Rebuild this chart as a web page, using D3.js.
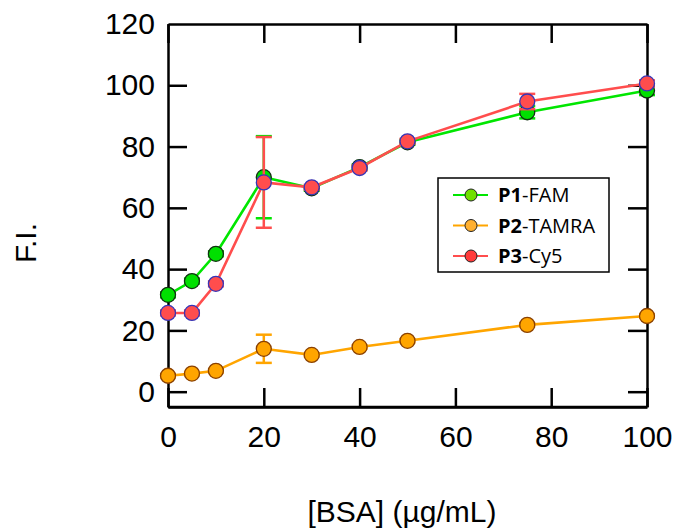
<!DOCTYPE html>
<html>
<head>
<meta charset="utf-8">
<script src="https://cdn.jsdelivr.net/npm/d3@7"></script>
<style>
  body { margin: 0; background: #fff; }
  svg { font-family: "Liberation Sans", Arial, sans-serif; }
</style>
</head>
<body>
<div id="chart"></div>
<script>
// BSA concentrations (µg/mL)
const bsa = [0, 5, 10, 20, 30, 40, 50, 75, 100];

// fluorescence intensity per probe
const p1Fam = [31.6, 36.1, 45.0, 70.0, 66.4, 73.3, 81.4, 91.2, 98.3];
const p1Err = [0.8, 0.8, 0.8, 13.4, 0.8, 0.8, 0.8, 2.0, 1.5];
const p2Tamra = [5.2, 5.9, 6.8, 14.0, 12.0, 14.6, 16.6, 21.8, 24.7];
const p2Err = [0.5, 0.5, 0.5, 4.6, 0.5, 0.5, 0.5, 0.5, 0.5];
const p3Cy5 = [25.7, 25.7, 35.2, 68.3, 66.7, 73.0, 81.7, 94.7, 100.6];
const p3Err = [0.8, 0.8, 0.8, 14.8, 0.8, 0.8, 0.8, 2.5, 1.0];

const seriesNames = ["P1", "P2", "P3"];
const seriesDyes = ["-FAM", "-TAMRA", "-Cy5"];

const xTicks = [0, 20, 40, 60, 80, 100];
const yTicks = [0, 20, 40, 60, 80, 100, 120];

const width = 675, height = 531;
const plotLeft = 168, plotRight = 647, plotTop = 24, plotBottom = 407;

const svg = d3.select("#chart").append("svg")
    .attr("width", width)
    .attr("height", height);

const x = d3.scaleLinear().domain([0, 100]).range([plotLeft, plotRight]);
const y = d3.scaleLinear().domain([-5, 120]).range([plotBottom, plotTop]);

const series = [
    {values: p1Fam, err: p1Err, line: "#00e600", fill: "#00e000", stroke: "#103010", legendFill: "#70e000"},
    {values: p2Tamra, err: p2Err, line: "#ffa500", fill: "#ffa500", stroke: "#8a4000", legendFill: "#ffb030"},
    {values: p3Cy5, err: p3Err, line: "#ff4d4d", fill: "#ff4d4d", stroke: "#3535b8", legendFill: "#ff3a3a"}
];

const tickLen = 19;
const tickFont = "30px";

// frame with inward ticks on all four sides
const axisStyle = g => {
    g.select(".domain").attr("stroke", "#000").attr("stroke-width", 2.5);
    g.selectAll(".tick line").attr("stroke", "#000").attr("stroke-width", 2.5);
    g.selectAll(".tick text").attr("fill", "#000").style("font-size", tickFont);
};

svg.append("g")
    .attr("transform", "translate(0," + plotBottom + ")")
    .call(d3.axisBottom(x).tickValues(xTicks).tickSize(-tickLen).tickSizeOuter(0))
    .call(axisStyle)
    .call(g => g.selectAll(".tick text").attr("dy", "0.71em").attr("y", 19));

svg.append("g")
    .attr("transform", "translate(0," + plotTop + ")")
    .call(d3.axisTop(x).tickValues(xTicks).tickSize(-tickLen).tickSizeOuter(0).tickFormat(""))
    .call(axisStyle);

svg.append("g")
    .attr("transform", "translate(" + plotLeft + ",0)")
    .call(d3.axisLeft(y).tickValues(yTicks.slice(0, 6)).tickSize(-tickLen).tickSizeOuter(0))
    .call(axisStyle)
    .call(g => g.selectAll(".tick text").attr("x", -13));

// the 120 label sits on the top edge
svg.append("text")
    .attr("x", plotLeft - 13)
    .attr("y", y(120))
    .attr("dy", "0.32em")
    .attr("text-anchor", "end")
    .style("font-size", tickFont)
    .text(yTicks[6]);

svg.append("g")
    .attr("transform", "translate(" + plotRight + ",0)")
    .call(d3.axisRight(y).tickValues(yTicks.slice(0, 6)).tickSize(-tickLen).tickSizeOuter(0).tickFormat(""))
    .call(axisStyle);

svg.append("line")
    .attr("x1", plotLeft).attr("x2", plotRight)
    .attr("y1", y(-5)).attr("y2", y(-5))
    .attr("stroke", "#000").attr("stroke-width", 2.5);

// axis titles
svg.append("text")
    .attr("transform", "translate(36,243) rotate(-90)")
    .attr("text-anchor", "middle")
    .style("font-size", "30px")
    .text("F.I.");

svg.append("text")
    .attr("x", 402)
    .attr("y", 522)
    .attr("text-anchor", "middle")
    .style("font-size", "30px")
    .text("[BSA] (µg/mL)");

// series
const line = d3.line().x((d, i) => x(bsa[i])).y(d => y(d));
const capW = 8;

series.forEach(s => {
    const g = svg.append("g");
    g.append("path")
        .datum(s.values)
        .attr("d", line)
        .attr("fill", "none")
        .attr("stroke", s.line)
        .attr("stroke-width", 2.6);

    const eb = g.selectAll(".err")
        .data(s.values)
        .enter()
        .append("g")
        .attr("stroke", s.line)
        .attr("stroke-width", 2.5);
    eb.append("line")
        .attr("x1", (d, i) => x(bsa[i])).attr("x2", (d, i) => x(bsa[i]))
        .attr("y1", (d, i) => y(d - s.err[i])).attr("y2", (d, i) => y(d + s.err[i]));
    eb.append("line")
        .attr("x1", (d, i) => x(bsa[i]) - capW).attr("x2", (d, i) => x(bsa[i]) + capW)
        .attr("y1", (d, i) => y(d + s.err[i])).attr("y2", (d, i) => y(d + s.err[i]));
    eb.append("line")
        .attr("x1", (d, i) => x(bsa[i]) - capW).attr("x2", (d, i) => x(bsa[i]) + capW)
        .attr("y1", (d, i) => y(d - s.err[i])).attr("y2", (d, i) => y(d - s.err[i]));

    g.selectAll("circle")
        .data(s.values)
        .enter()
        .append("circle")
        .attr("cx", (d, i) => x(bsa[i]))
        .attr("cy", d => y(d))
        .attr("r", 7.5)
        .attr("fill", s.fill)
        .attr("stroke", s.stroke)
        .attr("stroke-width", 1.3);
});

// legend
const lg = svg.append("g").attr("transform", "translate(438,178)");
lg.append("rect")
    .attr("width", 171).attr("height", 94)
    .attr("fill", "#fff")
    .attr("stroke", "#000")
    .attr("stroke-width", 1.5);

series.forEach((s, i) => {
    const yy = 17 + i * 30.5;
    lg.append("line")
        .attr("x1", 15).attr("x2", 50)
        .attr("y1", yy).attr("y2", yy)
        .attr("stroke", s.line).attr("stroke-width", 2);
    lg.append("circle")
        .attr("cx", 33).attr("cy", yy).attr("r", 6)
        .attr("fill", s.legendFill)
        .attr("stroke", "#222")
        .attr("stroke-width", 1);
    const t = lg.append("text")
        .attr("x", 60).attr("y", yy)
        .attr("dy", "0.36em")
        .style("font-family", "'Open Sans', sans-serif")
        .style("font-size", "20px");
    t.append("tspan").style("font-weight", "bold").text(seriesNames[i]);
    t.append("tspan").text(seriesDyes[i]);
});
</script>
</body>
</html>
